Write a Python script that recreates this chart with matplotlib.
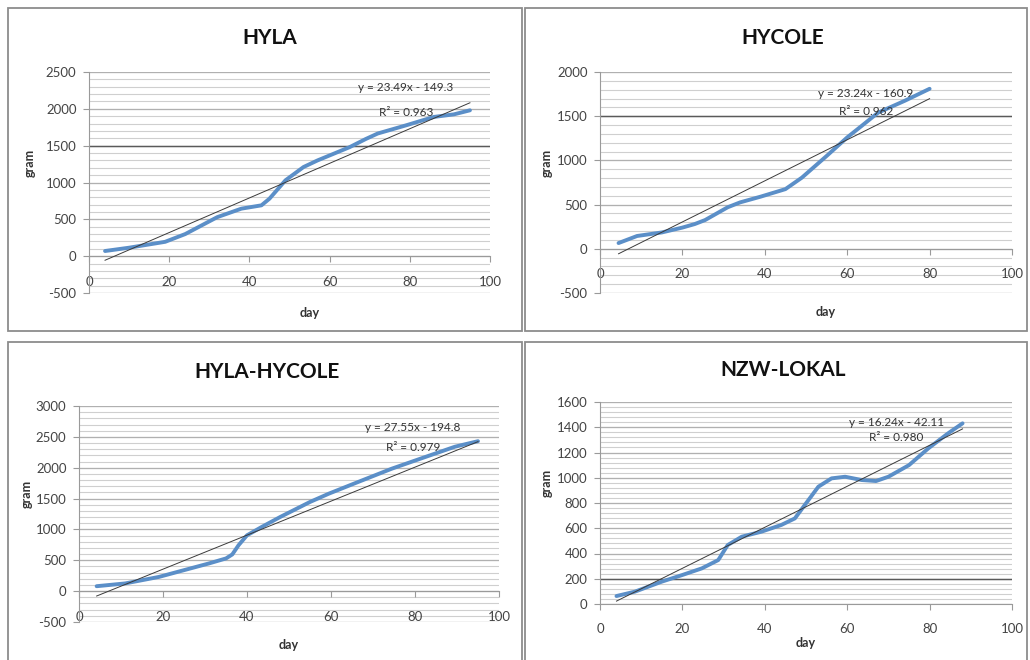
import numpy as np
import matplotlib
matplotlib.use("Agg")
from matplotlib import pyplot as plt
from matplotlib.patches import Rectangle

plt.rcParams['font.family'] = ['Lato', 'DejaVu Sans']
plt.rcParams['axes.unicode_minus'] = False

W, H = 1030, 660

# --- data ---
titles = ['HYLA', 'HYCOLE', 'HYLA-HYCOLE', 'NZW-LOKAL']

hyla_x = [4, 10, 19, 24, 32, 38, 43, 45, 49, 53.5, 57, 65, 69, 72, 79, 86, 91, 95]
hyla_y = [70, 115, 195, 300, 530, 645, 690, 780, 1030, 1210, 1300, 1480, 1590, 1665, 1775, 1890, 1925, 1980]

hycole_x = [4.5, 9, 15, 20, 23, 25.5, 31, 34, 39, 45, 49, 55, 60, 63.5, 67.5, 74, 80]
hycole_y = [65, 145, 185, 240, 280, 325, 470, 525, 590, 675, 805, 1050, 1260, 1390, 1540, 1675, 1810]

hh_x = [4.2, 11, 19, 25, 31, 35, 36.5, 38, 40, 43.5, 48, 55, 59.5, 66.5, 74.5, 82.5, 89.5, 95]
hh_y = [80, 125, 230, 340, 450, 530, 595, 745, 905, 1040, 1205, 1445, 1580, 1770, 1985, 2175, 2340, 2430]

nzw_x = [4, 8.5, 15, 20, 24.7, 28.7, 31, 34.4, 39.2, 44, 47.3, 49.7, 53, 56.2, 59.5, 63.5, 67, 70, 75, 79.7, 84.5, 88]
nzw_y = [63, 98, 177, 230, 282, 348, 467, 533, 573, 626, 678, 784, 929, 995, 1008, 982, 974, 1008, 1100, 1233, 1352, 1431]

series_x = [hyla_x, hycole_x, hh_x, nzw_x]
series_y = [hyla_y, hycole_y, hh_y, nzw_y]

slopes = [23.49, 23.24, 27.55, 16.24]
intercepts = [-149.3, -160.9, -194.8, -42.11]
r2 = ['0.963', '0.962', '0.979', '0.980']

y_lims = [(-500, 2500), (-500, 2000), (-500, 3000), (0, 1600)]
y_major = [500, 500, 500, 200]
y_minor = [100, 100, 100, 40]
dark_line = [1500, 1500, None, 200]

# --- layout in pixels (left, top, right, bottom) ---
borders = [(8, 8, 522, 331), (525, 8, 1027, 331), (8, 342, 522, 662), (525, 342, 1027, 662)]
plot_boxes = [(89, 72, 490, 293), (600, 72, 1012, 293), (79, 406, 499, 622), (600, 402, 1012, 604)]
title_pos = [(270, 38), (783, 38), (267, 372), (783, 370)]
ylabel_x = [30, 547, 27, 547]
xlabel_y = [313, 312, 645, 643]
eq_pos = [(79, 2283, 1957), (64.5, 1762, 1548), (79.5, 2644, 2320), (72, 1434, 1315)]


def fx(px):
    return px / W


def fy(py):
    return 1 - py / H


fig = plt.figure(figsize=(W / 100, H / 100), dpi=100)
fig.patch.set_facecolor('white')

for i in range(4):
    # panel frame
    l, t, r, b = borders[i]
    fig.patches.append(Rectangle((fx(l), fy(b)), fx(r - l), (b - t) / H, transform=fig.transFigure,
                                 fill=False, edgecolor='#8c8c8c', lw=1.3))

    l, t, r, b = plot_boxes[i]
    ax = fig.add_axes([fx(l), fy(b), fx(r - l), (b - t) / H])
    ymin, ymax = y_lims[i]
    ax.set_xlim(0, 100)
    ax.set_ylim(ymin, ymax)

    # gridlines
    for v in np.arange(ymin, ymax + 1, y_minor[i]):
        ax.axhline(v, color='#cfcfcf', lw=0.8, zorder=0)
    for v in np.arange(ymin, ymax + 1, y_major[i]):
        ax.axhline(v, color='#b0b0b0', lw=0.9, zorder=0)
    if dark_line[i] is not None:
        ax.axhline(dark_line[i], color='#5a5a5a', lw=1.0, zorder=0)

    # data + linear trend
    xs = np.array(series_x[i])
    ax.plot(xs, series_y[i], color='#5b8fc8', lw=2.8, solid_joinstyle='round',
            solid_capstyle='round', zorder=3)
    tx = np.array([xs[0], xs[-1]])
    ax.plot(tx, slopes[i] * tx + intercepts[i], color='#3a3a3a', lw=0.7, zorder=4)

    ex, ey1, ey2 = eq_pos[i]
    ax.text(ex, ey1, 'y = %.2fx - %s' % (slopes[i], ('%g' % -intercepts[i])),
            ha='center', va='center', fontsize=8.5, color='#333333', zorder=5)
    ax.text(ex, ey2, 'R² = ' + r2[i], ha='center', va='center', fontsize=8.5,
            color='#333333', zorder=5)

    # axes, Excel-like
    for s in ['top', 'right']:
        ax.spines[s].set_visible(False)
    ax.spines['left'].set_color('#9a9a9a')
    ax.spines['bottom'].set_color('#9a9a9a')
    ax.spines['bottom'].set_position(('data', 0))
    ax.set_xticks(np.arange(0, 101, 20))
    ax.set_yticks(np.arange(ymin, ymax + 1, y_major[i]))
    ax.tick_params(axis='x', direction='out', length=4, width=0.8, color='#9a9a9a',
                   labelsize=9.5, labelcolor='#444444', pad=10)
    ax.tick_params(axis='y', direction='out', length=4, width=0.8, color='#9a9a9a',
                   labelsize=9.5, labelcolor='#444444', pad=5)
    ax.set_facecolor('none')

    fig.text(fx(title_pos[i][0]), fy(title_pos[i][1]), titles[i], ha='center', va='center',
             fontsize=15, fontweight='bold', color='#111111')
    fig.text(fx(ylabel_x[i]), fy((t + b) / 2 - 20), 'gram', ha='center', va='center',
             rotation=90, fontsize=9, fontweight='bold', color='#333333')
    fig.text(fx((l + r) / 2 + 20 if i < 2 else (l + r) / 2), fy(xlabel_y[i]), 'day',
             ha='center', va='center', fontsize=9, fontweight='bold', color='#333333')

fig.savefig('out.png', dpi=100, facecolor='white')
